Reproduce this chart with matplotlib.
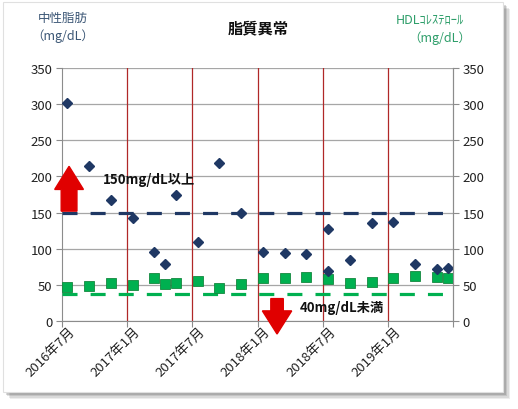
import numpy as np
import matplotlib.pyplot as plt
import matplotlib.transforms as mtransforms
from matplotlib.patches import FancyArrow, Rectangle

plt.rcParams['font.family'] = ['Noto Sans CJK JP', 'DejaVu Sans']

# axis: monthly date axis starting 2016-07, 36 months, tick every 6 months
axis_start = "2016-07"
axis_months = 36
tick_step = 6
tick_labels = ["2016年7月", "2017年1月", "2017年7月", "2018年1月", "2018年7月", "2019年1月", ""]

# 中性脂肪 (mg/dL)
tg_dates = ["2016-07", "2016-09", "2016-11", "2017-01", "2017-03", "2017-04", "2017-05",
            "2017-07", "2017-09", "2017-11", "2018-01", "2018-03", "2018-05", "2018-07",
            "2018-07", "2018-09", "2018-11", "2019-01", "2019-03", "2019-05", "2019-06"]
tg_values = [301, 215, 168, 143, 96, 79, 175,
             109, 218, 149, 96, 94, 92, 127,
             69, 85, 136, 137, 79, 72, 73]

# HDLコレステロール (mg/dL)
hdl_dates = ["2016-07", "2016-09", "2016-11", "2017-01", "2017-03", "2017-04", "2017-05",
             "2017-07", "2017-09", "2017-11", "2018-01", "2018-03", "2018-05", "2018-07",
             "2018-09", "2018-11", "2019-01", "2019-03", "2019-05", "2019-06"]
hdl_values = [47, 48, 53, 50, 59, 51, 53,
              55, 45, 51, 59, 59, 61, 58,
              53, 54, 59, 62, 61, 59]

tg_limit = 150
hdl_limit = 37


def month_pos(s):
    y, m = map(int, s.split("-"))
    y0, m0 = map(int, axis_start.split("-"))
    return (y - y0) * 12 + (m - m0) + 0.5


navy = '#1f3864'
green = '#00b050'

fig = plt.figure(figsize=(5.18, 4.10), dpi=100, facecolor='white')

# card with drop shadow
for i, a in enumerate([0.10, 0.13, 0.16, 0.22]):
    off = 7 - i * 1.5
    fig.patches.append(Rectangle(((3 + off) / 518, 1 - (393 + off) / 410), 500 / 518, 390 / 410,
                                 transform=fig.transFigure, color='#555555', alpha=a, lw=0, zorder=-3))
fig.patches.append(Rectangle((3 / 518, 1 - 393 / 410), 500 / 518, 390 / 410,
                             transform=fig.transFigure, facecolor='white', edgecolor='#e0e0e0',
                             lw=0.8, zorder=-2))

ax = fig.add_axes([62 / 518, 1 - 322 / 410, (453 - 62) / 518, (322 - 69) / 410])
ax.set_facecolor('none')
ax.set_xlim(0, axis_months)
ax.set_ylim(0, 350)
yt = np.arange(0, 351, 50)
ax.set_yticks(yt)
ticks = np.arange(0, axis_months + 1, tick_step)
ax.set_xticks(ticks)
ax.set_xticklabels([])
# rotated date labels, drawn as text so they can be nudged like Excel's
lbl_tr = ax.get_xaxis_transform() + mtransforms.ScaledTranslation(4.5 / 72, -2.5 / 72, fig.dpi_scale_trans)
for t, s in zip(ticks, tick_labels):
    ax.text(t, 0, s, transform=lbl_tr, rotation=45, ha='right', va='top', rotation_mode='anchor',
            fontsize=9.5, color='#222222', clip_on=False)
ax.tick_params(axis='x', length=4, color='#8c8c8c', pad=2)
ax.tick_params(axis='y', length=4, color='#8c8c8c', labelsize=9.5, labelcolor='#222222', pad=3)
ax.yaxis.grid(True, color='#a6a6a6', lw=0.9)
ax.set_axisbelow(True)
ax.spines['top'].set_visible(False)
for s in ['left', 'bottom', 'right']:
    ax.spines[s].set_color('#8c8c8c')

ax2 = ax.twinx()
ax2.set_ylim(0, 350)
ax2.set_yticks(yt)
ax2.tick_params(axis='y', length=4, color='#8c8c8c', labelsize=9.5, labelcolor='#222222', pad=3)
for s in ['left', 'bottom', 'top']:
    ax2.spines[s].set_visible(False)
ax2.spines['right'].set_color('#8c8c8c')

# red vertical lines at half-year ticks
for t in ticks[1:-1]:
    ax.axvline(t, color='#b02828', lw=0.9, zorder=2)

# threshold lines
ax.axhline(tg_limit, color=navy, lw=2.3, dashes=(4.7, 4.1), zorder=3)
ax.axhline(hdl_limit, color=green, lw=2.3, dashes=(4.7, 4.1), zorder=3)

# data
ax.plot([month_pos(d) for d in tg_dates], tg_values, 'D', color=navy, ms=4.8, zorder=5, clip_on=False)
ax.plot([month_pos(d) for d in hdl_dates], hdl_values, 's', color=green, mec='#14883e',
        mew=0.6, ms=6.8, zorder=4, clip_on=False)

# arrows
ax.add_patch(FancyArrow(0.65, 152, 0, 62, width=1.45, head_width=2.65, head_length=32,
                        length_includes_head=True, color='#e00000', clip_on=False, zorder=6))
ax.add_patch(FancyArrow(19.8, 31, 0, -49, width=1.15, head_width=2.7, head_length=32,
                        length_includes_head=True, color='#e00000', clip_on=False, zorder=6))

ax.text(3.8, 196, "150mg/dL以上", ha='left', va='center', fontsize=9.5, weight='bold', color='#111111', zorder=7)
ax.text(21.9, 20, "40mg/dL未満", ha='left', va='center', fontsize=9.5, weight='bold', color='#111111', zorder=7)

# titles and axis labels
fig.text(258 / 518, 1 - 28 / 410, "脂質異常", ha='center', va='center', fontsize=11, weight='bold', color='#111111')
fig.text(63 / 518, 1 - 18 / 410, "中性脂肪", ha='center', va='center', fontsize=9, color='#3b5675')
fig.text(63 / 518, 1 - 36 / 410, "（mg/dL）", ha='center', va='center', fontsize=9, color='#3b5675')
fig.text(430 / 518, 1 - 20 / 410, "HDLｺﾚｽﾃﾛｰﾙ", ha='center', va='center', fontsize=9, color='#2e9e6a')
fig.text(440 / 518, 1 - 38 / 410, "（mg/dL）", ha='center', va='center', fontsize=9, color='#2e9e6a')

fig.savefig("out.png", dpi=100, facecolor='white')
